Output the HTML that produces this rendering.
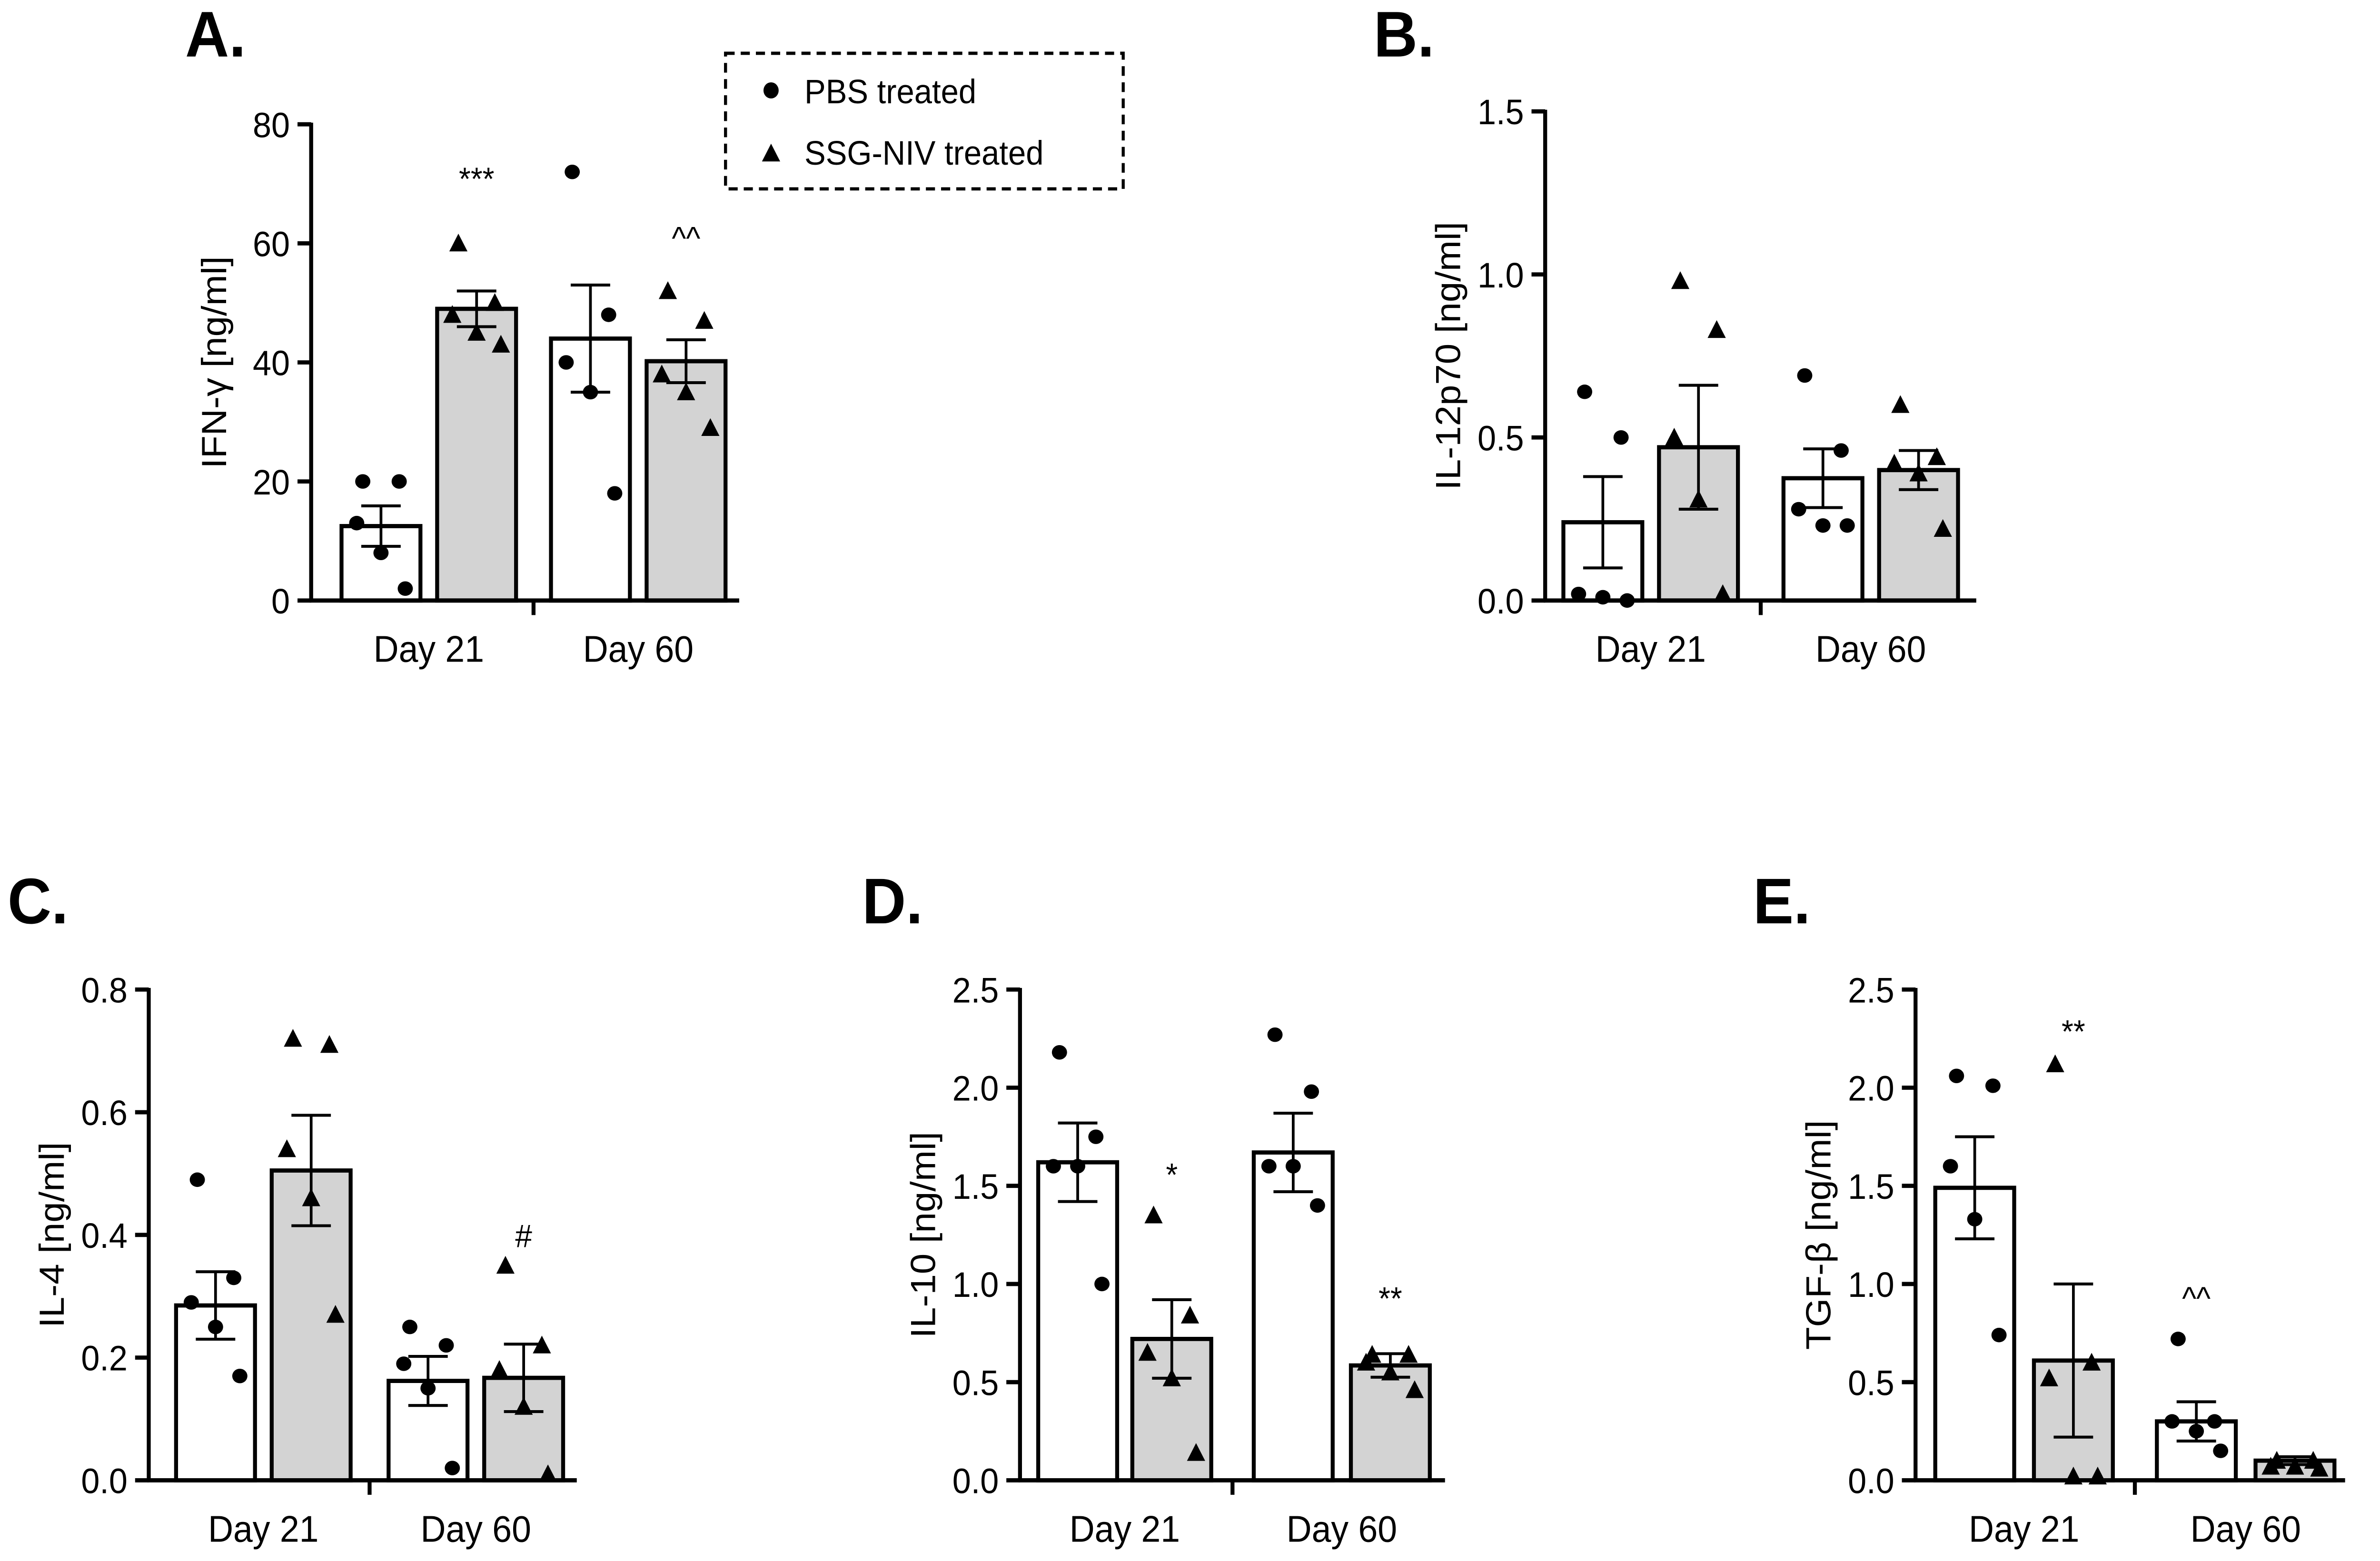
<!DOCTYPE html>
<html><head><meta charset="utf-8"><style>
html,body{margin:0;padding:0;background:#fff;overflow:hidden;width:100%;height:100%;}
svg{display:block;position:absolute;left:0;top:0;width:100vw;height:100vh;}
text{font-family:"Liberation Sans",Arial,sans-serif;fill:#000;}
</style></head><body>
<svg id="fig" viewBox="0 0 1568 967" preserveAspectRatio="none" xmlns="http://www.w3.org/2000/svg">
<g id="legend">
<rect x="478" y="33" width="262" height="84" fill="none" stroke="#000" stroke-width="2" stroke-dasharray="6,4"/>
<circle cx="508" cy="56" r="5"/>
<text x="530" y="64" font-size="21">PBS treated</text>
<polygon points="508,89 502,100 514,100"/>
<text x="530" y="102" font-size="21">SSG-NIV treated</text>
</g>
</svg>
<script>
const groupLabels = ["Day 21", "Day 60"];
const aMeans = [12.5, 49, 44, 40.2];
const aSem = [3.4, 3.0, 9.0, 3.6];
const aPts = [[20,20,13,8,2],[60,50,48,45,43],[72,48,40,35,18],[52,47,38,35,29]];
const aTicks = [0,20,40,60,80];
const bMeans = [0.24, 0.47, 0.375, 0.40];
const bSem = [0.14, 0.19, 0.09, 0.06];
const bPts = [[0.64,0.5,0.02,0.01,0.0],[0.98,0.83,0.5,0.31,0.02],[0.69,0.46,0.28,0.23,0.23],[0.6,0.44,0.42,0.39,0.22]];
const bTicks = [0,0.5,1.0,1.5];
const cMeans = [0.285, 0.505, 0.162, 0.167];
const cSem = [0.055, 0.09, 0.04, 0.055];
const cPts = [[0.49,0.33,0.29,0.25,0.17],[0.72,0.71,0.54,0.46,0.27],[0.25,0.22,0.19,0.15,0.02],[0.35,0.22,0.18,0.12,0.01]];
const cTicks = [0,0.2,0.4,0.6,0.8];
const dMeans = [1.62, 0.72, 1.67, 0.585];
const dSem = [0.2, 0.2, 0.2, 0.06];
const dPts = [[2.18,1.75,1.6,1.6,1.0],[1.35,0.84,0.65,0.52,0.14],[2.27,1.98,1.6,1.6,1.4],[0.64,0.64,0.6,0.55,0.46]];
const eMeans = [1.49, 0.61, 0.30, 0.10];
const eSem = [0.26, 0.39, 0.1, 0.02];
const ePts = [[2.06,2.01,1.6,1.33,0.74],[2.12,0.6,0.52,0.02,0.02],[0.72,0.3,0.3,0.25,0.15],[0.1,0.1,0.07,0.07,0.06]];
const deTicks = [0,0.5,1.0,1.5,2.0,2.5];

const NS="http://www.w3.org/2000/svg";
const fig=document.getElementById('fig');
function mk(tag,attrs,parent){const e=document.createElementNS(NS,tag);for(const k in attrs)e.setAttribute(k,attrs[k]);parent.appendChild(e);return e;}
const offs=[-12,12,-16,0,16];
function fmt(v,dec){return v.toFixed(dec);}

function panel(cfg){
  const g=mk('g',{},fig);
  
  
  const ymax=cfg.ticks[cfg.ticks.length-1];
  const y=v=>cfg.y0-(v/ymax)*(cfg.y0-cfg.y1);
  const xl=cfg.x0, hw=26;
  const centers=[cfg.c[0],cfg.c[1],cfg.c[2],cfg.c[3]];
  cfg.means.forEach((m,i)=>{
    const r=mk('rect',{x:centers[i]-hw,y:y(m),width:hw*2,height:cfg.y0-y(m),fill:i%2?'#d3d3d3':'#fff',stroke:'#000','stroke-width':2.6},g);
    
    
  });
  cfg.pts.forEach((arr,i)=>{
    arr.forEach((v,j)=>{
      const cx=centers[i]+offs[j], cy=y(v);
      let p;
      if(i%2===0) p=mk('ellipse',{cx:cx,cy:cy,rx:5,ry:4.5},g);
      else p=mk('polygon',{points:`${cx},${cy-6} ${cx-6},${cy+5} ${cx+6},${cy+5}`},g);
      
      
    });
  });
  cfg.means.forEach((m,i)=>{
    const c=centers[i],e=cfg.sem[i];
    const eg=mk('g',{stroke:'#000','stroke-width':1.8},g);
    
    
    mk('line',{x1:c,x2:c,y1:y(m+e),y2:y(Math.max(0,m-e))},eg);
    mk('line',{x1:c-13,x2:c+13,y1:y(m+e),y2:y(m+e)},eg);
    mk('line',{x1:c-13,x2:c+13,y1:y(Math.max(0,m-e)),y2:y(Math.max(0,m-e))},eg);
  });
  const ax=mk('g',{stroke:'#000','stroke-width':2.6},g);
  
  
  mk('line',{x1:xl,x2:xl,y1:cfg.y0+1,y2:cfg.y1-1},ax);
  mk('line',{x1:xl-1,x2:cfg.xe,y1:cfg.y0,y2:cfg.y0},ax);
  cfg.ticks.forEach(t=>{
    mk('line',{x1:xl-9,x2:xl,y1:y(t),y2:y(t)},ax);
    const tx=mk('text',{x:xl-14,y:y(t)+8,'font-size':22,'text-anchor':'end'},g);
    tx.textContent=fmt(t,cfg.dec);
    
    
  });
  const mid=(centers[1]+centers[2])/2;
  mk('line',{x1:mid,x2:mid,y1:cfg.y0,y2:cfg.y0+9},ax);
  groupLabels.forEach((l,k)=>{
    const tx=mk('text',{x:(centers[2*k]+centers[2*k+1])/2,y:cfg.y0+38,'font-size':23,'text-anchor':'middle'},g);
    tx.textContent=l;
    
    
  });
  const yt=mk('text',{x:0,y:0,'font-size':23,'text-anchor':'middle',transform:`translate(${xl-56},${(cfg.y0+cfg.y1)/2}) rotate(-90)`},g);
  yt.textContent=cfg.title;
  
  
  const pl=mk('text',{x:cfg.lx,y:cfg.ly,'font-size':40,'font-weight':'bold'},g);
  pl.textContent=cfg.id+'.';
  
  
  (cfg.ann||[]).forEach(a=>{
    const t=mk('text',{x:centers[a[0]],y:y(a[1]),'font-size':20,'text-anchor':'middle'},g);
    t.textContent=a[2];
    
    
  });
}
panel({id:'A',x0:205,xe:487,y0:372,y1:77,c:[251,314,389,452],means:aMeans,sem:aSem,pts:aPts,ticks:aTicks,dec:0,title:'IFN-γ [ng/ml]',lx:122,ly:35,ann:[[1,69,'***'],[3,59,'^^']]});
panel({id:'B',x0:1018,xe:1302,y0:372,y1:69,c:[1056,1119,1201,1264],means:bMeans,sem:bSem,pts:bPts,ticks:bTicks,dec:1,title:'IL-12p70 [ng/ml]',lx:905,ly:35});
panel({id:'C',x0:98,xe:380,y0:917,y1:613,c:[142,205,282,345],means:cMeans,sem:cSem,pts:cPts,ticks:cTicks,dec:1,title:'IL-4 [ng/ml]',lx:5,ly:572,ann:[[3,0.38,'#']]});
panel({id:'D',x0:672,xe:952,y0:917,y1:613,c:[710,772,852,916],means:dMeans,sem:dSem,pts:dPts,ticks:deTicks,dec:1,title:'IL-10 [ng/ml]',lx:568,ly:572,ann:[[1,1.5,'*'],[3,0.87,'**']]});
panel({id:'E',x0:1262,xe:1545,y0:917,y1:613,c:[1301,1366,1447,1512],means:eMeans,sem:eSem,pts:ePts,ticks:deTicks,dec:1,title:'TGF-β [ng/ml]',lx:1155,ly:572,ann:[[1,2.23,'**'],[2,0.87,'^^']]});
</script>
</body></html>
